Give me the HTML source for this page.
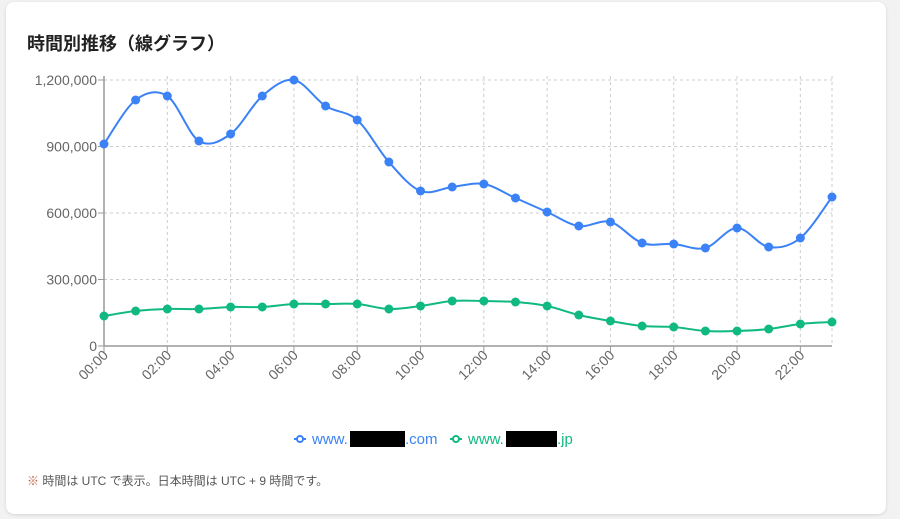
<!DOCTYPE html>
<html><head><meta charset="utf-8"><style>
body{margin:0;width:900px;height:519px;background:#f2f2f2;font-family:"Liberation Sans","Noto Sans CJK JP",sans-serif;overflow:hidden}
.card{position:absolute;left:6px;top:2px;width:880px;height:512px;background:#fff;border-radius:8px;box-shadow:0 1px 3px rgba(0,0,0,.12)}
</style></head><body>
<div class="card"></div>
<svg id="s" width="900" height="519" style="position:absolute;left:0;top:0" font-family="Liberation Sans, Noto Sans CJK JP, sans-serif">
<text x="27" y="50" font-size="18" font-weight="bold" fill="#222">時間別推移（線グラフ）</text>
<text x="27" y="485" font-size="12" fill="#555"><tspan fill="#c0604a">※</tspan> 時間は UTC で表示。日本時間は UTC + 9 時間です。</text>
<g id="g"></g>
<g font-size="15">
<line x1="294" y1="439" x2="306" y2="439" stroke="#3b82f6" stroke-width="2"/><circle cx="300" cy="439" r="3" fill="#fff" stroke="#3b82f6" stroke-width="2"/>
<text x="312" y="444" fill="#3b82f6">www.</text><rect x="350" y="431" width="55" height="16" fill="#000"/><text x="405" y="444" fill="#3b82f6">.com</text>
<line x1="450" y1="439" x2="462" y2="439" stroke="#10b981" stroke-width="2"/><circle cx="456" cy="439" r="3" fill="#fff" stroke="#10b981" stroke-width="2"/>
<text x="468" y="444" fill="#10b981">www.</text><rect x="506" y="431" width="51" height="16" fill="#000"/><text x="557" y="444" fill="#10b981">.jp</text>
</g>
</svg>
<script>
var g=document.getElementById('g'),h='';
var x0=104,dx=728/23,yb=346;
for(var i=0;i<24;i+=2){var x=x0+i*dx;h+='<line x1="'+x+'" y1="76" x2="'+x+'" y2="346" stroke="#ccc" stroke-dasharray="3,3"/>';}
h+='<line x1="832" y1="76" x2="832" y2="346" stroke="#ccc" stroke-dasharray="3,3"/>';
var yl=['0','300,000','600,000','900,000','1,200,000'];
for(var j=0;j<5;j++){var y=yb-j*66.5;h+='<line x1="104" y1="'+y+'" x2="832" y2="'+y+'" stroke="#ccc" stroke-dasharray="3,3"/><line x1="98" y1="'+y+'" x2="104" y2="'+y+'" stroke="#999"/><text x="97" y="'+(y+5)+'" font-size="14" fill="#666" text-anchor="end">'+yl[j]+'</text>';}
h+='<line x1="104" y1="76" x2="104" y2="346" stroke="#999" stroke-width="1.5"/><line x1="104" y1="346" x2="832" y2="346" stroke="#999" stroke-width="1.5"/>';
for(var i=0;i<24;i+=2){var x=x0+i*dx;var l=(i<10?'0':'')+i+':00';h+='<line x1="'+x+'" y1="346" x2="'+x+'" y2="352" stroke="#999"/><text transform="translate('+(x+5)+',356) rotate(-45)" font-size="14" fill="#666" text-anchor="end">'+l+'</text>';}
var B=[144,100,96,141,134,96,80,106,120,162,191,187,184,198,212,226,222,243,244,248,228,247,238,197];
var G=[316,311,309,309,307,307,304,304,304,309,306,301,301,302,306,315,321,326,327,331,331,329,324,322];
function path(Y){var p=Y.map(function(y,i){return[x0+i*dx,y]});var d='M'+p[0];
for(var i=0;i<p.length-1;i++){var a=p[Math.max(i-1,0)],b=p[i],c=p[i+1],e=p[Math.min(i+2,p.length-1)];var t=1/6;
d+=' C'+(b[0]+(c[0]-a[0])*t)+','+(b[1]+(c[1]-a[1])*t)+' '+(c[0]-(e[0]-b[0])*t)+','+(c[1]-(e[1]-b[1])*t)+' '+c[0]+','+c[1];}return d;}
function series(Y,col){var s='<path d="'+path(Y)+'" fill="none" stroke="'+col+'" stroke-width="2"/>';Y.forEach(function(y,i){s+='<circle cx="'+(x0+i*dx)+'" cy="'+y+'" r="4.5" fill="'+col+'"/>';});return s;}
h+=series(G,'#10b981')+series(B,'#3b82f6');
g.innerHTML=h;
</script>
</body></html>
